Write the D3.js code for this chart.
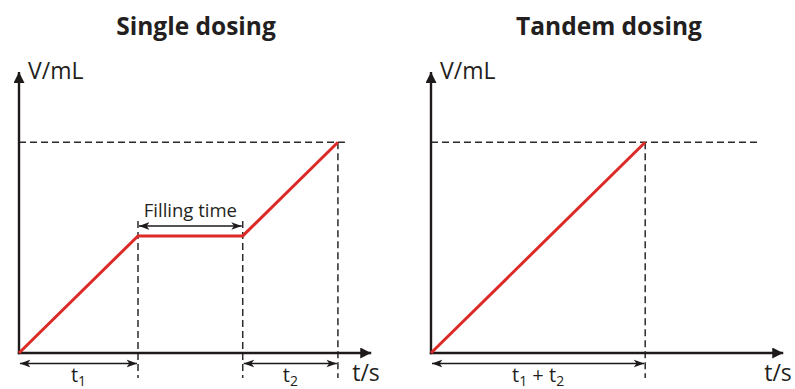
<!DOCTYPE html>
<html>
<head>
<meta charset="utf-8">
<script src="https://cdn.jsdelivr.net/npm/d3@7"></script>
<style>
  html, body { margin: 0; padding: 0; background: #fff; }
  svg { display: block; }
  text { font-family: "Open Sans", "Noto Sans", sans-serif; fill: #231f20; }
</style>
</head>
<body>
<svg id="chart" width="795" height="389"></svg>
<script>
// ---- data ----
const panelTitles = ["Single dosing", "Tandem dosing"];
const singleTime = [0, 2.5, 4.7, 6.7];
const singleVolume = [0, 2.5, 2.5, 4.5];
const tandemTime = [0, 4.5];
const tandemVolume = [0, 4.5];
const yAxisLabel = "V/mL";
const xAxisLabel = "t/s";
const fillingLabel = "Filling time";
const axisMaxT = 7.4;
const axisMaxV = 6.0;

// ---- layout ----
const svg = d3.select("#chart");
const originY = 353;
const panelOrigins = [19, 431];
const pxPerT = 47.6;

const y = d3.scaleLinear().domain([0, axisMaxV]).range([originY, originY - 281]);

const red = "#dc2a27";
const ink = "#1e1a1a";
const dashCol = "#2b2b2b";

const defs = svg.append("defs");
defs.append("marker").attr("id", "axisArrow")
  .attr("viewBox", "0 0 10 10").attr("refX", 10).attr("refY", 5)
  .attr("markerWidth", 11).attr("markerHeight", 11)
  .attr("markerUnits", "userSpaceOnUse").attr("orient", "auto")
  .append("path").attr("d", "M0,0 L10,5 L0,10 Z").attr("fill", ink);
defs.append("marker").attr("id", "chev")
  .attr("viewBox", "0 0 10 10").attr("refX", 9.5).attr("refY", 5)
  .attr("markerWidth", 11).attr("markerHeight", 11)
  .attr("markerUnits", "userSpaceOnUse").attr("orient", "auto-start-reverse")
  .append("path").attr("d", "M0,1.5 L9.5,5 L0,8.5 L2.5,5 Z").attr("fill", ink);

function subLabel(g, cx, parts) {
  const t = g.append("text").attr("x", cx).attr("y", 382)
    .attr("text-anchor", "middle").style("font-size", "20px");
  parts.forEach(([s, sub], k) => {
    const ts = t.append("tspan").text(s);
    if (sub) ts.style("font-size", "14px").attr("dy", 4);
    else ts.attr("dy", k > 0 ? -4 : 0);
  });
}

function panel(i, times, vols) {
  const ox = panelOrigins[i];
  const x = d3.scaleLinear().domain([0, axisMaxT]).range([ox, ox + axisMaxT * pxPerT]);
  const g = svg.append("g");
  const tEnd = times[times.length - 1];
  const vEnd = vols[vols.length - 1];

  g.append("text").attr("x", [196, 609][i]).attr("y", 35)
    .attr("text-anchor", "middle").style("font-size", "24.5px").style("font-weight", 700)
    .text(panelTitles[i]);

  const dash = "7,4";
  g.append("line").attr("x1", x(0)).attr("x2", x(tEnd) + (i === 0 ? 7 : 112))
    .attr("y1", y(vEnd)).attr("y2", y(vEnd))
    .attr("stroke", dashCol).attr("stroke-width", 1.5).attr("stroke-dasharray", dash);
  if (i === 0) {
    [times[1], times[2]].forEach(t => {
      g.append("line").attr("x1", x(t)).attr("x2", x(t))
        .attr("y1", 221).attr("y2", 378)
        .attr("stroke", dashCol).attr("stroke-width", 1.5).attr("stroke-dasharray", dash);
    });
  }
  g.append("line").attr("x1", x(tEnd)).attr("x2", x(tEnd))
    .attr("y1", y(vEnd)).attr("y2", 378)
    .attr("stroke", dashCol).attr("stroke-width", 1.5).attr("stroke-dasharray", dash);

  g.append("line").attr("x1", x(0)).attr("x2", x(0))
    .attr("y1", y(0) + 1.2).attr("y2", y(axisMaxV))
    .attr("stroke", ink).attr("stroke-width", 2.4).attr("marker-end", "url(#axisArrow)");
  g.append("line").attr("x1", x(0) - 1.2).attr("x2", x(axisMaxT))
    .attr("y1", y(0)).attr("y2", y(0))
    .attr("stroke", ink).attr("stroke-width", 2.4).attr("marker-end", "url(#axisArrow)");

  g.append("text").attr("x", x(0) + 9).attr("y", 79)
    .style("font-size", "23px").text(yAxisLabel);
  g.append("text").attr("x", x(axisMaxT) - 19).attr("y", 381)
    .style("font-size", "23px").text(xAxisLabel);

  const line = d3.line().x((d, k) => x(times[k])).y((d, k) => y(vols[k]));
  g.append("path").datum(vols).attr("d", line)
    .attr("fill", "none").attr("stroke", red).attr("stroke-width", 3)
    .attr("stroke-linejoin", "miter");

  function measure(t0, t1, yy) {
    g.append("line").attr("x1", x(t0) + 1).attr("x2", x(t1) - 1)
      .attr("y1", yy).attr("y2", yy)
      .attr("stroke", ink).attr("stroke-width", 1.7)
      .attr("marker-start", "url(#chev)").attr("marker-end", "url(#chev)");
  }
  if (i === 0) {
    measure(0, times[1], 363.5);
    measure(times[2], times[3], 363.5);
    measure(times[1], times[2], 226);
    g.append("text").attr("x", (x(times[1]) + x(times[2])) / 2).attr("y", 217)
      .attr("text-anchor", "middle").style("font-size", "18.5px").text(fillingLabel);
    subLabel(g, (x(0) + x(times[1])) / 2, [["t", false], ["1", true]]);
    subLabel(g, (x(times[2]) + x(times[3])) / 2, [["t", false], ["2", true]]);
  } else {
    measure(0, tEnd, 363.5);
    subLabel(g, (x(0) + x(tEnd)) / 2, [["t", false], ["1", true], [" + t", false], ["2", true]]);
  }
}

panel(0, singleTime, singleVolume);
panel(1, tandemTime, tandemVolume);
</script>
</body>
</html>
